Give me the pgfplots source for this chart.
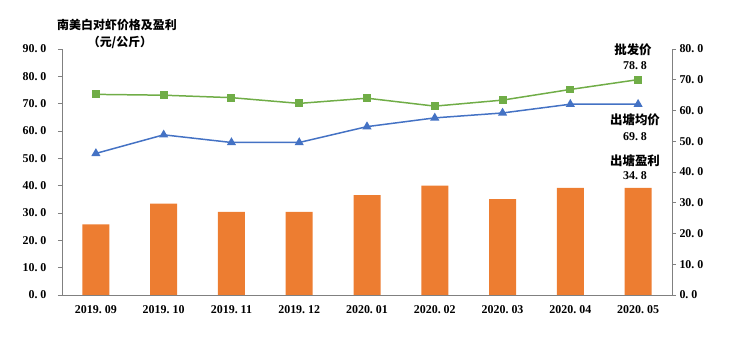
\documentclass[border=0pt]{standalone}
\usepackage{pgfplots}
\pgfplotsset{compat=1.18}
\usepackage{fontspec}
\setmainfont{Liberation Serif}
\newfontfamily\cjk{Noto Sans CJK SC}
\definecolor{cgreen}{HTML}{70AD47}
\definecolor{cblue}{HTML}{4472C4}
\definecolor{corange}{HTML}{ED7D31}
\definecolor{cgrey}{HTML}{808080}
\newcommand{\p}{.\hspace{3bp}}
\pgfplotstableread{
x bar ws farm
0 23.0 73.4 51.8
1 29.7 73.1 58.6
2 27.0 72.2 55.8
3 27.0 70.1 55.8
4 32.5 72.0 61.6
5 35.6 69.1 64.8
6 31.2 71.3 66.6
7 34.8 75.2 69.8
8 34.8 78.8 69.8
}\data
\begin{document}
\begin{tikzpicture}
\useasboundingbox (-62bp,-43bp) rectangle (688bp,295bp);
\pgfplotsset{
  base/.style={
    scale only axis, width=610bp, height=246bp,
    at={(0,0)}, anchor=south west,
    xmin=-0.5, xmax=8.5,
    axis line style={cgrey, line width=0.8pt},
    tick style={cgrey, line width=0.8pt},
    tick align=outside,
    major tick length=4bp,
    tick label style={font=\fontsize{12}{14}\selectfont\bfseries},
  }
}
\begin{axis}[base,
  axis y line*=right, axis x line*=bottom,
  ymin=0, ymax=80, ytick={0,10,...,80},
  yticklabels={0\p0,10\p0,20\p0,30\p0,40\p0,50\p0,60\p0,70\p0,80\p0},
  xtick={0,...,8},
  xticklabels={2019\p09,2019\p10,2019\p11,2019\p12,2020\p01,2020\p02,2020\p03,2020\p04,2020\p05},
  major x tick style={draw=none},
  extra x ticks={-0.5,0.5,...,8.5},
  extra x tick labels={},
  extra x tick style={major tick length=5bp, tick style={cgrey, line width=0.8pt, draw=cgrey}},
  xticklabel style={yshift=-3bp},
]
\addplot[ybar, bar width=27bp, fill=corange, draw=none] table[x=x,y=bar]{\data};
\end{axis}
\begin{axis}[base,
  axis y line*=left, axis x line=none,
  ymin=0, ymax=90, ytick={0,10,...,90},
  yticklabels={0\p0,10\p0,20\p0,30\p0,40\p0,50\p0,60\p0,70\p0,80\p0,90\p0},
  yticklabel style={xshift=-8bp},
]
\addplot[cgreen, line width=1.5pt, mark=square*, mark size=3.2bp, mark options={fill=cgreen, draw=cgreen}] table[x=x,y=ws]{\data};
\addplot[cblue, line width=1.5pt, mark=triangle*, mark size=3.8bp, mark options={fill=cblue, draw=cblue}] table[x=x,y=farm]{\data};
\end{axis}
\begin{scope}[every node/.style={font=\fontsize{12}{14}\selectfont\bfseries, inner sep=0pt}]
\node at (55bp,270bp) {\cjk\bfseries\fontsize{12}{14}\selectfont 南美白对虾价格及盈利};
\node at (58bp,253bp) {\cjk\bfseries\fontsize{12}{14}\selectfont （元/公斤）};
\node at (571bp,245bp) {\cjk\bfseries\fontsize{12.5}{14}\selectfont 批发价};
\node at (573bp,229bp) {78\p8};
\node at (573bp,175bp) {\cjk\bfseries\fontsize{12.5}{14}\selectfont 出塘均价};
\node at (573bp,158bp) {69\p8};
\node at (573bp,134bp) {\cjk\bfseries\fontsize{12.5}{14}\selectfont 出塘盈利};
\node at (573bp,119bp) {34\p8};
\end{scope}
\end{tikzpicture}
\end{document}
